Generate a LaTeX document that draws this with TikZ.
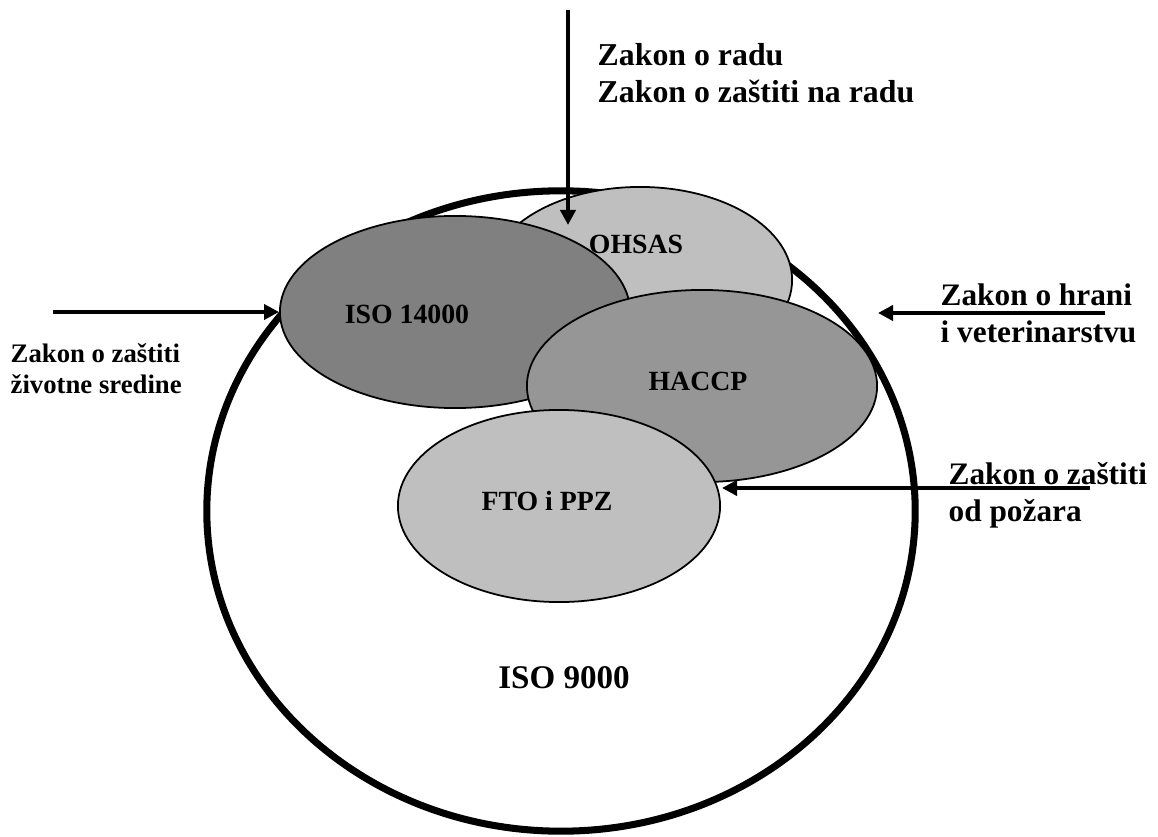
\documentclass[tikz,border=0pt]{standalone}
\usepackage{fontspec}
\setmainfont{Liberation Serif}
\usetikzlibrary{shapes.geometric,arrows.meta}

\begin{document}
\begin{tikzpicture}[x=0.01cm, y=-0.01cm,
  elsty/.style={ellipse, draw, line width=0.5pt, inner sep=0pt},
  bigsty/.style={ellipse, draw, line width=2pt, inner sep=0pt, minimum width=7.08cm, minimum height=6.4cm},
  namesty/.style={font=\bfseries\fontsize{7.9}{9}\selectfont, inner sep=0pt},
  lawsty/.style={anchor=north west, align=left, inner sep=0pt},
  arrow/.style={-{Triangle[width=0.15cm,length=0.15cm]}, line width=1.25pt}]

\useasboundingbox (0,0) rectangle (1158,837);

% quality system and the overlapping standards
\node[bigsty] (iso9) at (561,511) {};
\node[elsty, fill=black!25, minimum width=3.04cm, minimum height=1.86cm] (ohsas) at (640,280) {};
\node[elsty, fill=black!50, minimum width=3.5cm, minimum height=1.92cm] (iso14) at (455,312) {};
\node[elsty, fill=black!41, minimum width=3.5cm, minimum height=1.92cm] (haccp) at (702,386) {};
\node[elsty, fill=black!25, minimum width=3.22cm, minimum height=1.92cm] (fto) at (559,506) {};

\node[namesty] (lohsas) at (636,244) {OHSAS};
\node[namesty] (liso14) at (407,314) {ISO 14000};
\node[namesty] (lhaccp) at (698,381) {HACCP};
\node[namesty] (lfto) at (547,501) {FTO i PPZ};
\node[namesty, font=\bfseries\fontsize{9.4}{11}\selectfont] (liso9) at (564,678) {ISO 9000};

% laws
\coordinate (radS) at (568,10);
\coordinate (radE) at (568,225);
\coordinate (sredS) at (53,312);
\coordinate (hranS) at (1105,313);
\coordinate (hranE) at (878,313);
\coordinate (pozS) at (1090,488);
\coordinate (pozE) at (722,488);

\draw[arrow] (radS) -- (radE);
\draw[arrow] (sredS) -- (iso14.west);
\draw[arrow] (hranS) -- (hranE);
\draw[arrow] (pozS) -- (pozE);

\node[lawsty, font=\bfseries\fontsize{9.05}{10.5}\selectfont] (zrad) at (597,43) {Zakon o radu\\Zakon o zaštiti na radu};
\node[lawsty, font=\bfseries\fontsize{7.6}{8.8}\selectfont] (zsred) at (10,343) {Zakon o zaštiti\\životne sredine};
\node[lawsty, font=\bfseries\fontsize{8.9}{10.5}\selectfont] (zhran) at (940,283) {Zakon o hrani\\i veterinarstvu};
\node[lawsty, font=\bfseries\fontsize{8.9}{10.5}\selectfont] (zpoz) at (948,462) {Zakon o zaštiti\\od požara};

\end{tikzpicture}
\end{document}
